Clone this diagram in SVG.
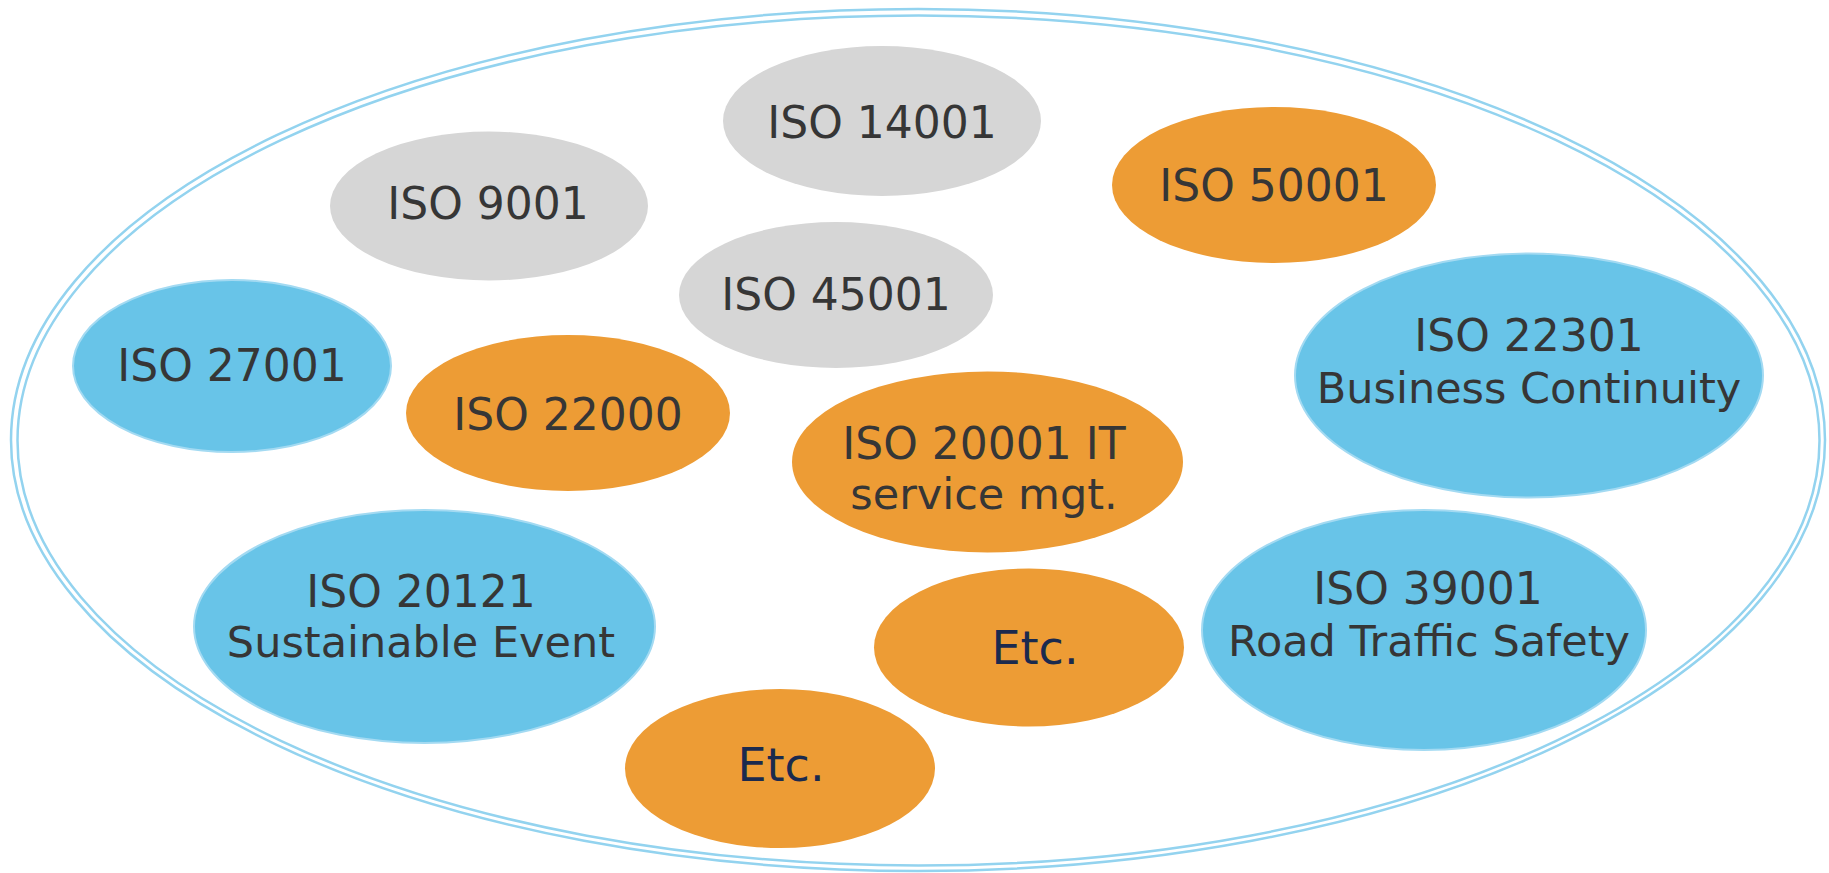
<svg xmlns="http://www.w3.org/2000/svg" width="1829" height="873" viewBox="0 0 1829 873">
<style>
.ring{fill:none;stroke:#93d3ef;stroke-width:2.5}
.gray{fill:#d6d6d6}
.orange{fill:#ed9c35}
.blue{fill:#68c4e8;stroke:#a3daf2;stroke-width:2}
.t{font-family:"DejaVu Sans",Verdana,sans-serif;font-size:44px;fill:#363636;text-anchor:middle}
.t2{font-size:43px}
.etc{font-family:"DejaVu Sans",Tahoma,sans-serif;font-size:46px;fill:#1b2a4e;text-anchor:middle}
</style>
<rect width="1829" height="873" fill="#ffffff"/>
<g id="outer">
<ellipse class="ring" cx="918" cy="440" rx="907" ry="431"/>
<ellipse class="ring" cx="918.5" cy="440.5" rx="901" ry="425"/>
</g>
<g id="connectors"></g>
<g id="iso14001"><ellipse class="gray" cx="882" cy="121" rx="159" ry="75"/><text class="t" x="882" y="138">ISO 14001</text></g>
<g id="iso9001"><ellipse class="gray" cx="489" cy="206" rx="159" ry="74.5"/><text class="t" x="488" y="219">ISO 9001</text></g>
<g id="iso45001"><ellipse class="gray" cx="836" cy="295" rx="157" ry="73"/><text class="t" x="836" y="310">ISO 45001</text></g>
<g id="iso50001"><ellipse class="orange" cx="1274" cy="185" rx="162" ry="78"/><text class="t" x="1274" y="201">ISO 50001</text></g>
<g id="iso27001"><ellipse class="blue" cx="232" cy="366" rx="159" ry="86"/><text class="t" x="232" y="381">ISO 27001</text></g>
<g id="iso22000"><ellipse class="orange" cx="568" cy="413" rx="162" ry="78"/><text class="t" x="568" y="430">ISO 22000</text></g>
<g id="iso20001"><ellipse class="orange" cx="987.5" cy="462" rx="195.5" ry="90.5"/><text class="t" x="984" y="459">ISO 20001 IT</text><text class="t t2" x="984" y="509">service mgt.</text></g>
<g id="iso22301"><ellipse class="blue" cx="1529" cy="375.5" rx="234" ry="122"/><text class="t" x="1529" y="351">ISO 22301</text><text class="t t2" x="1529" y="403">Business Continuity</text></g>
<g id="iso20121"><ellipse class="blue" cx="424.5" cy="626.5" rx="230.5" ry="116.5"/><text class="t" x="421" y="607">ISO 20121</text><text class="t t2" x="421" y="657">Sustainable Event</text></g>
<g id="iso39001"><ellipse class="blue" cx="1424" cy="630" rx="222" ry="120"/><text class="t" x="1428" y="604">ISO 39001</text><text class="t t2" x="1429" y="656">Road Traffic Safety</text></g>
<g id="etc1"><ellipse class="orange" cx="1029" cy="647.5" rx="155" ry="79"/><text class="etc" x="1035" y="664">Etc.</text></g>
<g id="etc2"><ellipse class="orange" cx="780" cy="768.5" rx="155" ry="79.5"/><text class="etc" x="781" y="781">Etc.</text></g>
</svg>
